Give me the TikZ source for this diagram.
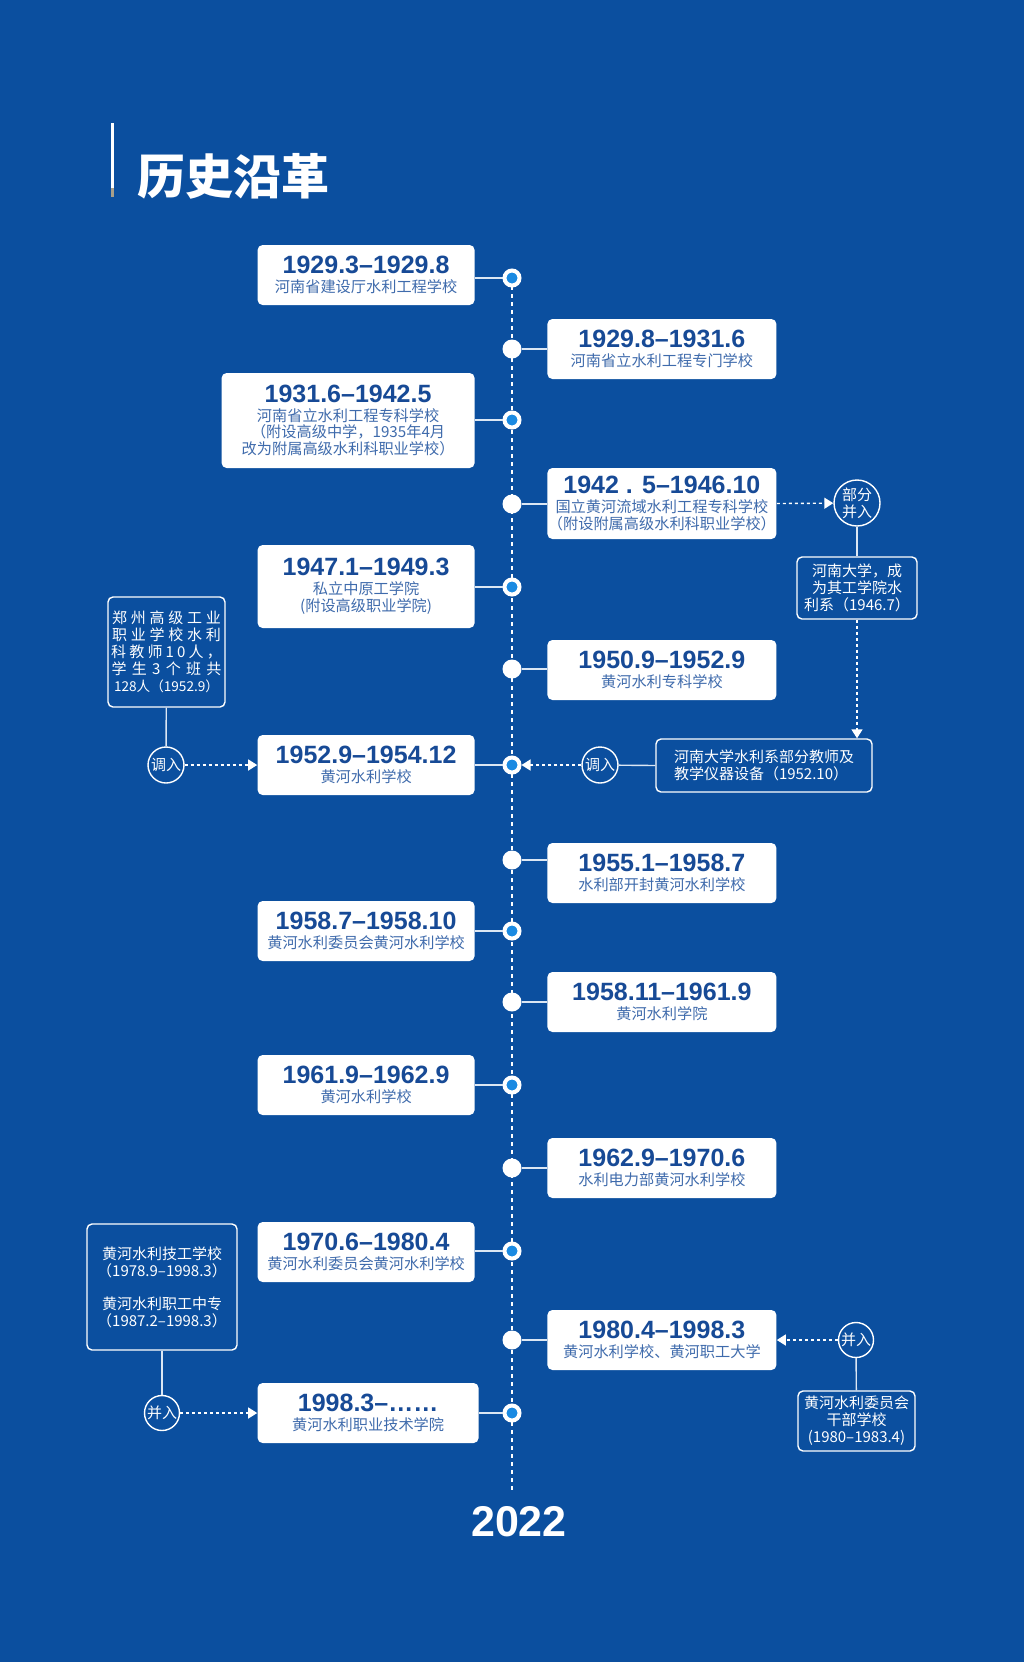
\documentclass[tikz,border=0pt]{standalone}
\usepackage{fontspec}
\setmainfont{Noto Sans CJK SC}
\newfontfamily\yearfont{Liberation Sans}
\usetikzlibrary{arrows.meta}
\definecolor{bgblue}{HTML}{0B4F9F}
\definecolor{yearblue}{HTML}{174A96}
\definecolor{subblue}{HTML}{3F6BAC}
\definecolor{dotblue}{HTML}{1A8AE2}
\definecolor{linkwhite}{HTML}{DCE7F4}
\definecolor{barend}{HTML}{A89F8A}
\newcommand{\yr}[1]{{\yearfont\bfseries\fontsize{12.5}{14}\selectfont\color{yearblue}#1}}
\newcommand{\spread}[2]{{\addfontfeature{LetterSpace=#1}#2}}

\begin{document}
\begin{tikzpicture}[x=0.5pt,y=-0.5pt,
  yearbox/.style={rectangle,rounded corners=2.5pt,fill=white,text=subblue,align=center,
    inner sep=0pt,font=\fontsize{7.6}{8.4}\selectfont},
  leftbox/.style={yearbox,anchor=east,minimum width=108.5pt,minimum height=30pt},
  rightbox/.style={yearbox,anchor=west,minimum width=114.5pt,minimum height=30pt},
  notebox/.style={rectangle,rounded corners=2.5pt,draw=white,line width=0.7pt,text=white,
    align=center,inner sep=0pt,font=\fontsize{7.5}{8.5}\selectfont},
  mergetag/.style={circle,draw=white,line width=0.7pt,text=white,inner sep=0pt,
    minimum size=18pt,align=center,font=\fontsize{7.5}{8.5}\selectfont},
  plaindot/.style={circle,fill=white,inner sep=0pt,minimum size=9.5pt},
  bluedot/.style={circle,fill=dotblue,draw=white,line width=2pt,inner sep=0pt,minimum size=7.5pt},
  joinline/.style={linkwhite,line width=0.7pt},
  shiftarrow/.style={white,line width=0.7pt,dash pattern=on 1.5pt off 1.5pt,
    -{Triangle[length=4.5pt,width=5.5pt]}},
  timeline/.style={white,line width=1.3pt,dash pattern=on 2pt off 2pt}
]
  \fill[bgblue] (0,0) rectangle (1024,1662);
  \useasboundingbox (0,0) rectangle (1024,1662);

  % title
  \fill[white] (111,123) rectangle (114,188);
  \fill[barend] (111,188) rectangle (114,197);
  \node[anchor=west,text=white,font=\fontsize{24}{24}\selectfont\bfseries] (title) at (130,176) {历史沿革};

  % time line
  \coordinate (top) at (512,278);
  \coordinate (bottom) at (512,1493);
  \draw[timeline] (top) -- (bottom);
  \node[text=white,font=\yearfont\bfseries\fontsize{21.5}{22}\selectfont] (now) at (519,1522) {2022};

  % periods
  \node[leftbox] (b1) at (475,275) {\yr{1929.3–1929.8}\\[1pt]河南省建设厅水利工程学校};
  \node[rightbox] (b2) at (547,349) {\yr{1929.8–1931.6}\\[1pt]河南省立水利工程专门学校};
  \node[leftbox,minimum width=126.5pt,minimum height=47.5pt] (b3) at (475,420.5)
    {\yr{1931.6–1942.5}\\[1pt]河南省立水利工程专科学校\\（附设高级中学，1935年4月\\改为附属高级水利科职业学校）};
  \node[rightbox,minimum height=35.5pt] (b4) at (547,503.5)
    {\yr{1942 . 5–1946.10}\\[1pt]国立黄河流域水利工程专科学校\\（附设附属高级水利科职业学校）};
  \node[leftbox,minimum height=41.5pt] (b5) at (475,586.5) {\yr{1947.1–1949.3}\\[1pt]私立中原工学院\\(附设高级职业学院)};
  \node[rightbox] (b6) at (547,670) {\yr{1950.9–1952.9}\\[1pt]黄河水利专科学校};
  \node[leftbox] (b7) at (475,765) {\yr{1952.9–1954.12}\\[1pt]黄河水利学校};
  \node[rightbox] (b8) at (547,873) {\yr{1955.1–1958.7}\\[1pt]水利部开封黄河水利学校};
  \node[leftbox] (b9) at (475,931) {\yr{1958.7–1958.10}\\[1pt]黄河水利委员会黄河水利学校};
  \node[rightbox] (b10) at (547,1002) {\yr{1958.11–1961.9}\\[1pt]黄河水利学院};
  \node[leftbox] (b11) at (475,1085) {\yr{1961.9–1962.9}\\[1pt]黄河水利学校};
  \node[rightbox] (b12) at (547,1168) {\yr{1962.9–1970.6}\\[1pt]水利电力部黄河水利学校};
  \node[leftbox] (b13) at (475,1252) {\yr{1970.6–1980.4}\\[1pt]黄河水利委员会黄河水利学校};
  \node[rightbox] (b14) at (547,1340) {\yr{1980.4–1998.3}\\[1pt]黄河水利学校、黄河职工大学};
  \node[leftbox,minimum width=110.5pt] (b15) at (479,1413) {\yr{1998.3–……}\\[1pt]黄河水利职业技术学院};

  % links to the line
  \draw[joinline] (512,278) -- (475,278);
  \node[bluedot] (d1) at (512,278) {};
  \node[plaindot] (d2) at (512,349) {};
  \node[bluedot] (d3) at (512,420) {};
  \node[plaindot] (d4) at (512,504) {};
  \node[bluedot] (d5) at (512,587) {};
  \node[plaindot] (d6) at (512,669) {};
  \node[bluedot] (d7) at (512,765) {};
  \node[plaindot] (d8) at (512,860) {};
  \node[bluedot] (d9) at (512,931) {};
  \node[plaindot] (d10) at (512,1002) {};
  \node[bluedot] (d11) at (512,1085) {};
  \node[plaindot] (d12) at (512,1168) {};
  \node[bluedot] (d13) at (512,1251) {};
  \node[plaindot] (d14) at (512,1340) {};
  \node[bluedot] (d15) at (512,1413) {};
  \draw[joinline] (d2) -- (d2 -| b2.west);
  \draw[joinline] (d3) -- (d3 -| b3.east);
  \draw[joinline] (d4) -- (d4 -| b4.west);
  \draw[joinline] (d5) -- (d5 -| b5.east);
  \draw[joinline] (d6) -- (d6 -| b6.west);
  \draw[joinline] (d7) -- (d7 -| b7.east);
  \draw[joinline] (d8) -- (d8 -| b8.west);
  \draw[joinline] (d9) -- (d9 -| b9.east);
  \draw[joinline] (d10) -- (d10 -| b10.west);
  \draw[joinline] (d11) -- (d11 -| b11.east);
  \draw[joinline] (d12) -- (d12 -| b12.west);
  \draw[joinline] (d13) -- (d13 -| b13.east);
  \draw[joinline] (d14) -- (d14 -| b14.west);
  \draw[joinline] (d15) -- (d15 -| b15.east);

  % side notes
  \node[mergetag,minimum size=23pt] (cA) at (857,503) {部分\\并入};
  \node[notebox,minimum width=60pt,minimum height=31pt] (nA) at (857,588) {河南大学，成\\为其工学院水\\利系（1946.7）};
  \node[notebox,align=left,minimum width=108pt,minimum height=26.5pt] (nB) at (764,765.5)
    {河南大学水利系部分教师及\\教学仪器设备（1952.10）};
  \node[mergetag] (cB) at (600,765) {调入};
  \node[notebox,minimum width=58.5pt,minimum height=55pt] (nL) at (166.5,652)
    {\spread{25}{郑州高级工业}\\\spread{25}{职业学校水利}\\\spread{21}{科教师10人，}\\\spread{35}{学生3个班共}\\{\fontsize{6.8}{8.5}\selectfont 128人（1952.9）}};
  \node[mergetag] (cL) at (166,765) {调入};
  \node[notebox,minimum width=75pt,minimum height=63pt] (nL2) at (162,1287)
    {黄河水利技工学校\\（1978.9–1998.3）\\[8pt]黄河水利职工中专\\（1987.2–1998.3）};
  \node[mergetag,minimum size=17.5pt] (cL2) at (162,1413) {并入};
  \node[mergetag,minimum size=17.5pt] (cR2) at (856,1340) {并入};
  \node[notebox,minimum width=58.5pt,minimum height=30pt] (nR2) at (856.5,1421)
    {黄河水利委员会\\干部学校\\(1980–1983.4)};

  \draw[shiftarrow] (b4.east) -- (cA);
  \draw[joinline] (cA) -- (nA);
  \draw[shiftarrow] (nA.south) -- (nA.south |- nB.north);
  \draw[joinline] (nB.west) -- (cB);
  \draw[shiftarrow] (cB) -- (d7);
  \draw[joinline] (nL) -- (cL);
  \draw[shiftarrow] (cL) -- (b7.west);
  \draw[joinline] (nL2) -- (cL2);
  \draw[shiftarrow] (cL2) -- (b15.west);
  \draw[shiftarrow] (cR2) -- (b14.east);
  \draw[joinline] (cR2) -- (nR2);
\end{tikzpicture}
\end{document}
